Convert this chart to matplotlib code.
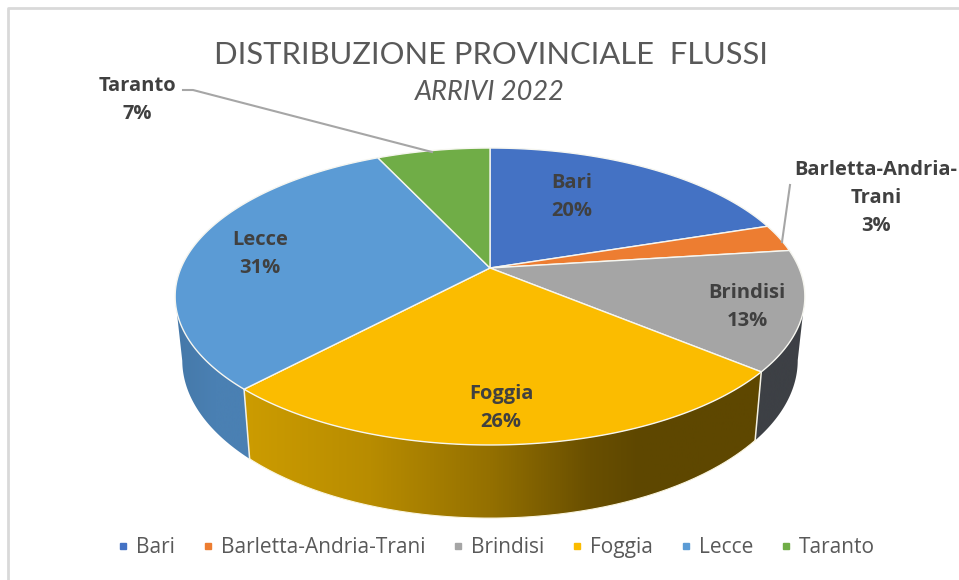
import numpy as np
import matplotlib
matplotlib.use('Agg')
import matplotlib.pyplot as plt
from matplotlib.lines import Line2D
from matplotlib.patches import Polygon
from matplotlib.colors import LinearSegmentedColormap

categories = ['Bari', 'Barletta-Andria-Trani', 'Brindisi', 'Foggia', 'Lecce', 'Taranto']
values = [20, 3, 13, 26, 31, 7]
top_colors = ['#4472C4', '#ED7D31', '#A5A5A5', '#FBBC00', '#5B9BD5', '#70AD47']
label_names = ['Bari', 'Barletta-Andria-\nTrani', 'Brindisi', 'Foggia', 'Lecce', 'Taranto']
title = 'DISTRIBUZIONE PROVINCIALE  FLUSSI'
subtitle = 'ARRIVI 2022'

# wall shading, by pixel column
wall_x = {
    'Lecce': [175, 215, 250],
    'Foggia': [245, 370, 490, 590, 640, 765],
    'Brindisi': [755, 805],
}
wall_colors = {
    'Lecce': ['#4578a8', '#4a80b3', '#4a80b3'],
    'Foggia': ['#cc9c00', '#b88c00', '#947000', '#694f00', '#5e4700', '#5e4700'],
    'Brindisi': ['#3d4045', '#3d4045'],
}

label_xy = [(572, 197), (876, 198), (747, 307), (501, 408), (260, 254), (137, 100)]

TILT = 0.192


def project(theta, top=True):
    # perspective view of the unit disc, theta clockwise from 12 o'clock
    x = np.sin(theta)
    y = np.cos(theta)
    w = 1 + TILT * y
    if top:
        return 490 + 309 * x / w, 268 - 143 * y / w
    return 490 + 302 * x / w, 330 - 152 * y / w


fig = plt.figure(figsize=(9.59, 5.80), dpi=100)
ax = fig.add_axes([0, 0, 1, 1])
ax.set_xlim(0, 959)
ax.set_ylim(580, 0)
ax.axis('off')

ax.plot([8, 8, 959], [580, 8, 8], color='#d9d9d9', lw=2)

edges = np.cumsum([0] + values) / sum(values) * 2 * np.pi

# side walls first, only the part in front of the silhouette tangent
for i, name in enumerate(categories):
    if name not in wall_x:
        continue
    t = np.linspace(edges[i], edges[i + 1], 400)
    t = t[np.cos(t) <= -TILT]
    xt, yt = project(t)
    xb, yb = project(t[::-1], top=False)
    clip = Polygon(np.c_[np.r_[xt, xb], np.r_[yt, yb]], closed=True, transform=ax.transData)
    x0, x1 = wall_x[name][0], wall_x[name][-1]
    pos = [(v - x0) / (x1 - x0) for v in wall_x[name]]
    cmap = LinearSegmentedColormap.from_list(name, list(zip(pos, wall_colors[name])))
    im = ax.imshow(np.linspace(0, 1, 512).reshape(1, -1), cmap=cmap, extent=[x0, x1, 530, 150], aspect='auto', zorder=2)
    im.set_clip_path(clip)
ax.set_xlim(0, 959)
ax.set_ylim(580, 0)

# light seams on the walls
for e in [edges[3], edges[4]]:
    xt, yt = project(e)
    xb, yb = project(e, top=False)
    ax.plot([xt, xb], [yt, yb], color='#f4f1e4', lw=1.1, zorder=3)
t = np.linspace(edges[3], edges[4], 200)
ax.plot(*project(t, top=False), color='#fbf6e0', lw=0.8, zorder=3)

# top face
for i, name in enumerate(categories):
    t = np.linspace(edges[i], edges[i + 1], int(values[i] * 12) + 2)
    xr, yr = project(t)
    ax.fill(np.r_[490, xr], np.r_[268, yr], facecolor=top_colors[i], edgecolor='#f6f6f0', lw=1.0, zorder=4)

for i, name in enumerate(label_names):
    ax.text(label_xy[i][0], label_xy[i][1], '%s\n%d%%' % (name, values[i]), ha='center', va='center',
            family='Open Sans', fontweight='bold', fontsize=14.5, color='#404040', linespacing=1.52, zorder=6)

# leader lines
ax.plot([183, 193, 432], [90, 90, 152], color='#a6a6a6', lw=1.5, zorder=5)
ax.plot([790, 782], [185, 242], color='#a6a6a6', lw=1.5, zorder=5)

ax.text(491, 55, title, ha='center', va='center', family='Lato', fontsize=22.2, color='#595959')
ax.text(490, 93, subtitle, ha='center', va='center', family='Lato', style='italic', fontsize=19.5, color='#595959')

handles = [Line2D([], [], ls='', marker='s', ms=5, color=c) for c in top_colors]
ax.legend(handles, categories, loc='center', bbox_to_anchor=(496 / 959, 1 - 547.5 / 580), ncol=6, frameon=False,
          prop={'family': 'Open Sans', 'size': 15}, labelcolor='#595959', handlelength=0.6, handletextpad=0.3,
          columnspacing=1.3)

fig.savefig('out.png', dpi=100)
